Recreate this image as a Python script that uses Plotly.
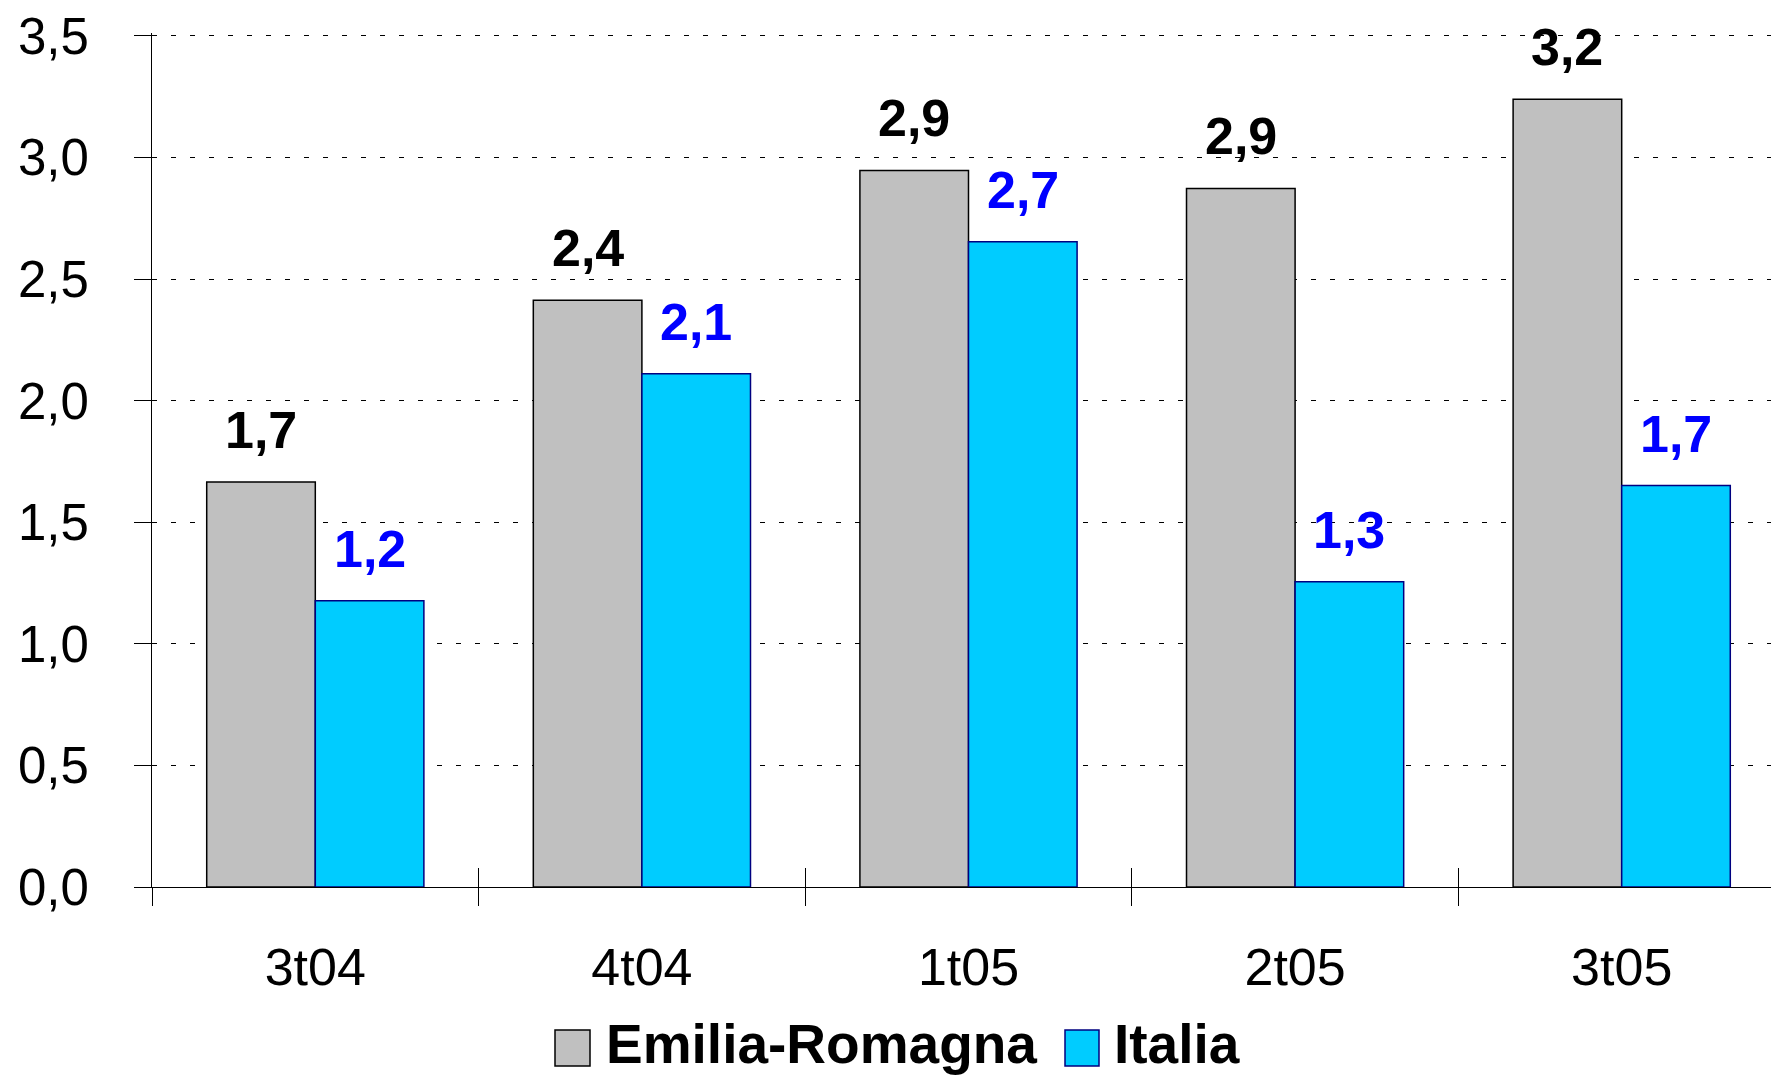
import plotly.graph_objects as go

categories = ["3t04", "4t04", "1t05", "2t05", "3t05"]
emilia_values = [1.666, 2.413, 2.947, 2.873, 3.240]
italia_values = [1.177, 2.111, 2.654, 1.255, 1.651]
emilia_labels = ["1,7", "2,4", "2,9", "2,9", "3,2"]
italia_labels = ["1,2", "2,1", "2,7", "1,3", "1,7"]
series_names = ["Emilia-Romagna", "Italia"]
y_ticks = [0, 0.5, 1.0, 1.5, 2.0, 2.5, 3.0, 3.5]

FONT = "Liberation Sans, Arial, sans-serif"
GRAY = "#C0C0C0"
CYAN = "#00CCFF"
BARGAP = 0.335

W, H = 1771, 1079
YMAX = 3.512
ML, MR, MB = 152, 0, 192
PX_PER_UNIT = (887 - 36) / 3.5
MT = 36 - (YMAX - 3.5) * PX_PER_UNIT
pw = W - ML - MR
ph = H - MT - MB

fig = go.Figure()
fig.add_trace(go.Bar(x=categories, y=emilia_values, name=series_names[0],
                     marker=dict(color=GRAY, line=dict(color="#000000", width=1.5)),
                     showlegend=False, hoverinfo="skip"))
fig.add_trace(go.Bar(x=categories, y=italia_values, name=series_names[1],
                     marker=dict(color=CYAN, line=dict(color="#000080", width=1.5)),
                     showlegend=False, hoverinfo="skip"))
# dummy trace to activate the overlay axis with cross ticks
fig.add_trace(go.Scatter(x=[None], y=[None], xaxis="x2", yaxis="y",
                         showlegend=False, hoverinfo="skip"))

off = (1 - BARGAP) / 4
annotations = []
for i, (v, t) in enumerate(zip(emilia_values, emilia_labels)):
    annotations.append(dict(x=i - off, y=v, xref="x", yref="y", text=t, showarrow=False,
                            yanchor="bottom", yshift=21,
                            font=dict(family=FONT, size=52, color="#000000", weight="bold")))
for i, (v, t) in enumerate(zip(italia_values, italia_labels)):
    annotations.append(dict(x=i + off, y=v, xref="x", yref="y", text=t, showarrow=False,
                            yanchor="bottom", yshift=21,
                            font=dict(family=FONT, size=52, color="#0000FF", weight="bold")))

# custom legend (boxes + text) in paper coordinates
def px_x(x):
    return (x - ML) / pw

def px_y(y):
    return (H - MB - y) / ph

shapes = [
    dict(type="rect", xref="paper", yref="paper",
         x0=px_x(555), x1=px_x(590), y0=px_y(1066), y1=px_y(1030),
         fillcolor=GRAY, line=dict(color="#000000", width=1.5)),
    dict(type="rect", xref="paper", yref="paper",
         x0=px_x(1065), x1=px_x(1099), y0=px_y(1066), y1=px_y(1030),
         fillcolor=CYAN, line=dict(color="#000080", width=1.5)),
]
annotations.append(dict(x=px_x(604), y=px_y(1044), xref="paper", yref="paper",
                        text=series_names[0], showarrow=False, xanchor="left", yanchor="middle",
                        font=dict(family=FONT, size=55, color="#000000", weight="bold")))
annotations.append(dict(x=px_x(1112), y=px_y(1044), xref="paper", yref="paper",
                        text=series_names[1], showarrow=False, xanchor="left", yanchor="middle",
                        font=dict(family=FONT, size=55, color="#000000", weight="bold")))

xmax = 4.5 - 14 / 326.6
fig.update_layout(
    width=W, height=H,
    margin=dict(l=ML, r=MR, t=MT, b=MB, pad=0),
    paper_bgcolor="white", plot_bgcolor="white",
    barmode="group", bargap=BARGAP, bargroupgap=0,
    separators=",.",
    font=dict(family=FONT, size=52, color="#000000"),
    xaxis=dict(type="category", range=[-0.5, xmax], showline=True, linecolor="#000000",
               linewidth=1, ticks="outside", tickson="boundaries", ticklen=18,
               tickcolor="#000000", tickwidth=1, showgrid=False,
               tickfont=dict(family=FONT, size=52, color="#000000"),
               ticklabelstandoff=35),
    xaxis2=dict(overlaying="x", anchor="y", side="bottom", range=[-0.5, xmax],
                tickvals=[i + 0.5 for i in range(len(categories) - 1)],
                ticks="inside", ticklen=19, tickcolor="#000000", tickwidth=1,
                showticklabels=False, showgrid=False, showline=False, zeroline=False),
    yaxis=dict(range=[0, YMAX], tickvals=y_ticks, tickformat=".1f", showline=True,
               linecolor="#000000", linewidth=1, ticks="outside", ticklen=17,
               tickcolor="#000000", tickwidth=1, showgrid=True, gridcolor="#000000",
               gridwidth=1, griddash="5px,14px", zeroline=False,
               tickfont=dict(family=FONT, size=51, color="#000000"),
               ticklabelstandoff=35),
    shapes=shapes,
    annotations=annotations,
)

fig.write_html("out.html", config={"displayModeBar": False},
               post_script="document.body.style.margin='0';document.body.style.padding='0';document.body.style.overflow='hidden';")
